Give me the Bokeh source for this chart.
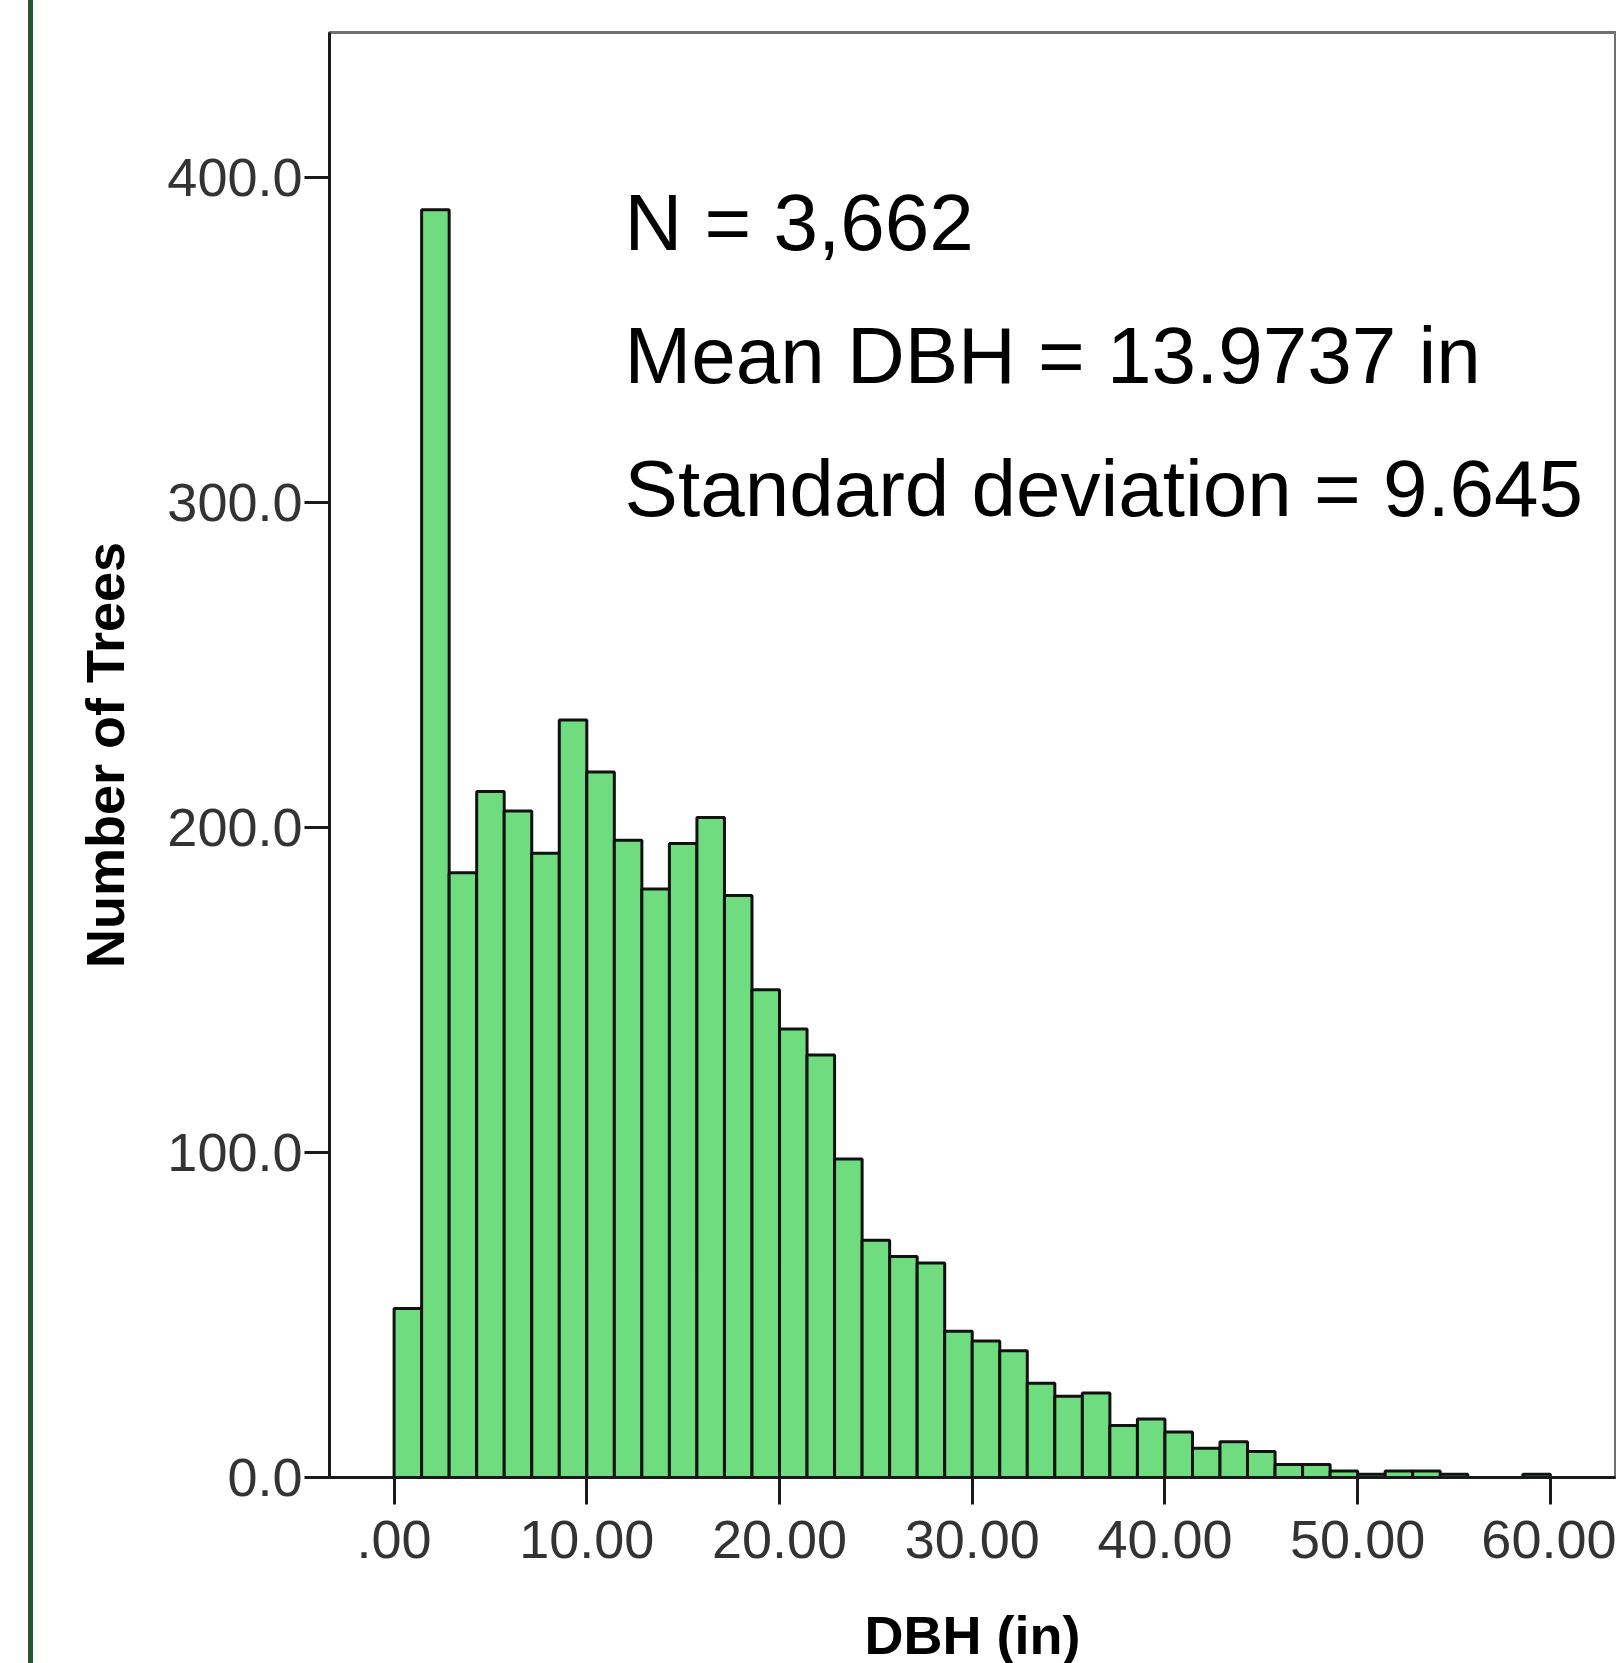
import numpy as np
from bokeh.plotting import figure
from bokeh.models import FixedTicker, Range1d, Label, Div, Spacer
from bokeh.layouts import row
from bokeh.embed import file_html
from bokeh.resources import INLINE

# ---- data ----
bin_width = 10.0 / 7.0
counts = [52, 390, 186, 211, 205, 192, 233, 217, 196, 181, 195, 203, 179, 150,
          138, 130, 98, 73, 68, 66, 45, 42, 39, 29, 25, 26, 16, 18, 14, 9,
          11, 8, 4, 4, 2, 1, 2, 2, 1, 0, 0, 1]
x_ticks = [0, 10, 20, 30, 40, 50, 60]
x_tick_labels = [".00", "10.00", "20.00", "30.00", "40.00", "50.00", "60.00"]
y_ticks = [0, 100, 200, 300, 400]
y_tick_labels = ["0.0", "100.0", "200.0", "300.0", "400.0"]
stats_lines = ["N = 3,662", "Mean DBH = 13.9737 in", "Standard deviation = 9.645"]
x_label = "DBH (in)"
y_label = "Number of Trees"

edges = np.arange(len(counts) + 1) * bin_width
lefts = edges[:-1]
rights = edges[1:]

FONT = "Liberation Sans"

p = figure(frame_width=1286, frame_height=1445, output_backend="svg",
           toolbar_location=None,
           x_range=Range1d(-3.352, 63.38), y_range=Range1d(0, 444.5))
p.min_border_left = 296
p.min_border_right = 1
p.min_border_top = 32
p.min_border_bottom = 186

p.quad(left=lefts, right=rights, top=counts, bottom=0,
       fill_color="#70DC80", line_color="#111111", line_width=3)

p.grid.visible = False
p.background_fill_color = "white"
p.border_fill_color = "white"
p.outline_line_color = "#707070"
p.outline_line_width = 3

for ax in (p.xaxis[0], p.yaxis[0]):
    ax.axis_line_color = "#1a1a1a"
    ax.axis_line_width = 3
    ax.major_tick_line_color = "#1a1a1a"
    ax.major_tick_line_width = 3
    ax.major_tick_in = 0
    ax.minor_tick_line_color = None
    ax.major_label_text_font = FONT
    ax.major_label_text_font_size = "54px"
    ax.major_label_text_color = "#333333"
    ax.axis_label_text_font = FONT
    ax.axis_label_text_font_size = "54px"
    ax.axis_label_text_font_style = "bold"
    ax.axis_label_text_color = "#000000"

p.xaxis.ticker = FixedTicker(ticks=x_ticks)
p.xaxis.major_label_overrides = {t: l for t, l in zip(x_ticks, x_tick_labels)}
p.xaxis.major_tick_out = 27
p.xaxis.major_label_standoff = 16
p.xaxis.axis_label = x_label
p.xaxis.axis_label_standoff = 44

p.yaxis.ticker = FixedTicker(ticks=y_ticks)
p.yaxis.major_label_overrides = {t: l for t, l in zip(y_ticks, y_tick_labels)}
p.yaxis.major_tick_out = 25
p.yaxis.major_label_standoff = 2
p.yaxis.axis_label = y_label
p.yaxis.axis_label_standoff = 29

stat_y = [386.0, 345.1, 304.3]
for txt, yy in zip(stats_lines, stat_y):
    p.add_layout(Label(x=11.96, y=yy, text=txt, text_font=FONT,
                       text_font_size="80px", text_color="#000000",
                       text_baseline="alphabetic", text_align="left"))

gap = Spacer(width=28, height=1663, margin=0)
bar = Div(text="", width=5, height=1663, margin=0,
          styles={"background-color": "#27562F"})
layout = row(gap, bar, p, spacing=0)

open("out.html", "w").write(file_html(layout, INLINE))
